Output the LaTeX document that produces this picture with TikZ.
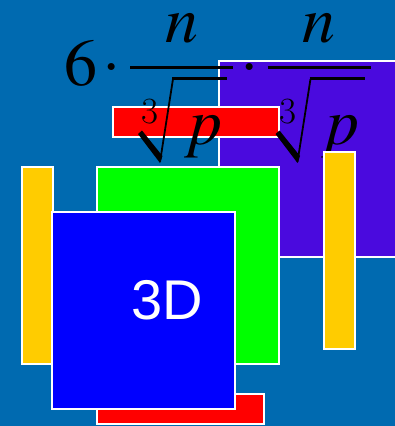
\documentclass[tikz,border=0pt]{standalone}
\usepackage{mathptmx}
\usepackage[no-math]{fontspec}
\setsansfont{Liberation Sans}
\definecolor{bgblue}{RGB}{0,106,176}
\definecolor{lilac}{RGB}{74,10,222}
\definecolor{gold}{RGB}{255,204,0}
\tikzset{
  slab/.style={draw=white, line width=1.5pt},
  bigmath/.style={inner sep=0, font=\fontsize{66}{70}\selectfont},
  smallmath/.style={inner sep=0, font=\fontsize{37}{40}\selectfont}
}
\begin{document}
\begin{tikzpicture}[x=1pt, y=-1pt]
  \fill[bgblue] (0,0) rectangle (395,426);
  \useasboundingbox (0,0) rectangle (395,426);
  \draw[slab, fill=lilac] (219,61) rectangle (400,257);
  \draw[slab, fill=red] (113,107) rectangle (279,137);
  % 6 . n/root(3,p) . n/root(3,p)
  \node[bigmath, anchor=base] (six) at (81,85) {$6$};
  \foreach \i/\cx in {1/181.5, 2/319}
    {
        \node[bigmath, anchor=base] (dot\i) at ({\cx-69.5}, 83) {$\cdot$};
        \node[bigmath, anchor=base] (num\i) at (\cx, 42) {$n$};
        \draw[line width=3pt] ({\cx-51.5}, 67) -- ({\cx+51.5}, 67);
        % root sign
        \fill ({\cx-43.5}, 134) -- ({\cx-39.5}, 130.5) -- ({\cx-19}, 156)
          -- ({\cx-21.5}, 163) -- cycle;
        \draw[line width=1.8pt] ({\cx-21.5}, 162) -- ({\cx-8.5}, 79);
        \draw[line width=3pt] ({\cx-9.3}, 78.5) -- ({\cx+45.5}, 78.5);
        \node[smallmath, anchor=base] (index\i) at ({\cx-31.5}, 123) {3};
        \node[bigmath, anchor=base] (rad\i) at ({\cx+22}, 144) {$p$};
    }
  \draw[slab, fill=gold] (324,152) rectangle (355,349);
  \draw[slab, fill=gold] (22,167) rectangle (53,364);
  \draw[slab, fill=green] (97,167) rectangle (279,364);
  \draw[slab, fill=red] (97,394) rectangle (264,424);
  \draw[slab, fill=blue] (52,212) rectangle (235,409);
  \node[text=white, font=\sffamily\fontsize{56}{60}\selectfont] (label) at (167.5,300) {3D};
\end{tikzpicture}
\end{document}
